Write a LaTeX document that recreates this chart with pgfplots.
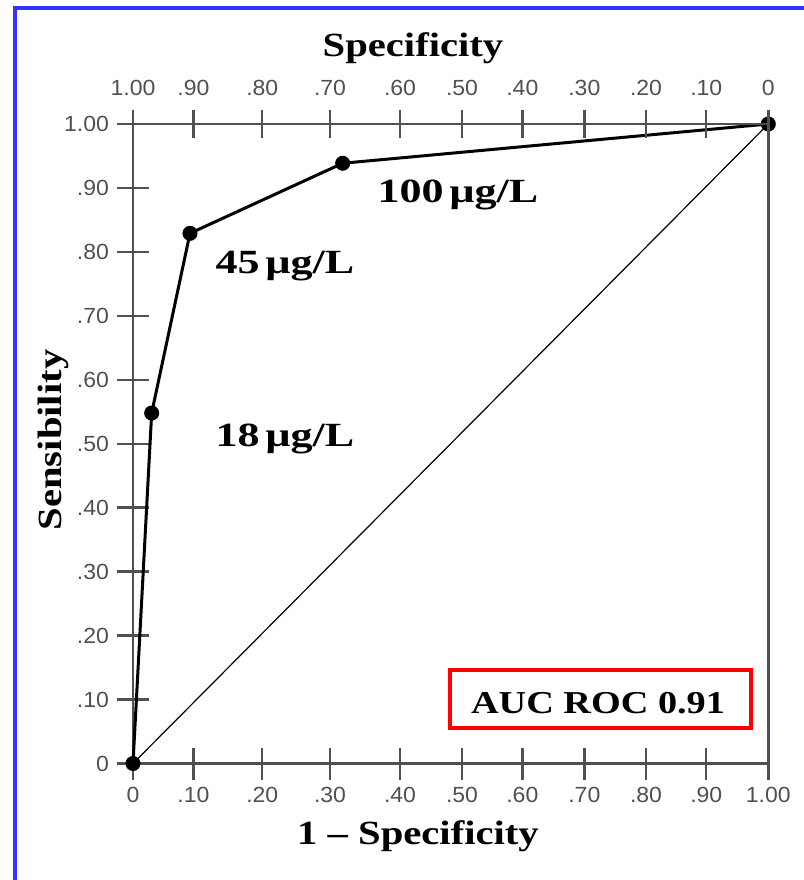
\documentclass[border=0pt]{standalone}
\usepackage{pgfplots}
\pgfplotsset{compat=1.18}
\usepackage{fontspec}
\setmainfont{Liberation Serif}
\newfontfamily\bigserif[FakeStretch=1.2]{Liberation Serif}
\newfontfamily\wideserif[FakeStretch=1.3]{Liberation Serif}
\newfontfamily\ticksf[FakeStretch=1.05]{Liberation Sans}
\definecolor{axgray}{HTML}{505050}
\definecolor{frameblue}{HTML}{3333FF}
\definecolor{boxred}{HTML}{FF0000}

\pgfplotstableread{
x y
0 0
0.0294 0.548
0.0897 0.829
0.3300 0.9386
1 1
}\roc

\begin{document}
\begin{tikzpicture}
\path[use as bounding box] (-66.5bp,-58.25bp) rectangle (335.5bp,381.75bp);
\fill[frameblue] (-60bp,-58.25bp) rectangle (-58bp,378.75bp);
\fill[frameblue] (-60bp,376.75bp) rectangle (335.5bp,378.75bp);

\begin{axis}[
  at={(0,0)}, anchor=south west,
  scale only axis, width=317.65bp, height=319.75bp,
  xmin=0, xmax=1, ymin=0, ymax=1,
  axis line style={axgray, line width=1.2bp},
  xtick={0,0.0952,0.2035,0.3101,0.4203,0.5179,0.6128,0.7104,0.8075,0.9024,1},
  xticklabels={0,.10,.20,.30,.40,.50,.60,.70,.80,.90,1.00},
  ytick={0,0.1,0.2,0.3,0.4,0.5,0.6,0.7,0.8,0.9,1},
  yticklabels={0,.10,.20,.30,.40,.50,.60,.70,.80,.90,1.00},
  xtick pos=bottom, ytick pos=left,
  tick align=center,
  major tick length=16bp,
  tick style={axgray, line width=1.2bp},
  ticklabel style={font=\ticksf\fontsize{11}{12}\selectfont, text=axgray},
  xticklabel style={anchor=north, yshift=-0.3bp},
  yticklabel style={anchor=east, xshift=-0.5bp},
  xlabel={1 – Specificity},
  ylabel={Sensibility},
  label style={font=\bigserif\bfseries\fontsize{17}{19}\selectfont},
  xlabel style={at={(axis description cs:0.4486,-0.1274)}, anchor=base},
  ylabel style={at={(axis description cs:-0.1118,0.506)}, anchor=base, rotate=0},
  clip=false,
]
\addplot[black, line width=0.6bp] coordinates {(0,0) (1,1)};
\addplot[black, line width=1.5bp, mark=*, mark size=3bp, mark options={fill=black}] table[x=x,y=y] {\roc};
\node[font=\wideserif\bfseries\fontsize{17}{19}\selectfont, anchor=base] at (axis cs:0.5116,0.8765) {100\,µg/L};
\node[font=\wideserif\bfseries\fontsize{17}{19}\selectfont, anchor=base] at (axis cs:0.2393,0.766) {45\,µg/L};
\node[font=\wideserif\bfseries\fontsize{17}{19}\selectfont, anchor=base] at (axis cs:0.2393,0.495) {18\,µg/L};
\draw[boxred, line width=2bp] (axis cs:0.4984,0.0555) rectangle (axis cs:0.9735,0.1462);
\node[font=\bigserif\bfseries\fontsize{16}{18}\selectfont, anchor=base] at (axis cs:0.732,0.0785) {AUC ROC 0.91};
\end{axis}

\begin{axis}[
  at={(0,0)}, anchor=south west,
  scale only axis, width=317.65bp, height=319.75bp,
  xmin=0, xmax=1, ymin=0, ymax=1,
  axis x line*=top, axis y line=none,
  axis line style={axgray, line width=1.2bp},
  xtick={0,0.0952,0.2035,0.3101,0.4203,0.5179,0.6128,0.7104,0.8075,0.9024,1},
  xticklabels={1.00,.90,.80,.70,.60,.50,.40,.30,.20,.10,0},
  tick align=center,
  major tick length=14bp,
  tick style={axgray, line width=1.2bp},
  ticklabel style={font=\ticksf\fontsize{11}{12}\selectfont, text=axgray},
  xticklabel style={anchor=south, yshift=3.8bp},
  xlabel={Specificity},
  label style={font=\bigserif\bfseries\fontsize{17}{19}\selectfont},
  xlabel style={at={(axis description cs:0.4407,1.1048)}, anchor=base},
]
\end{axis}
\end{tikzpicture}
\end{document}
